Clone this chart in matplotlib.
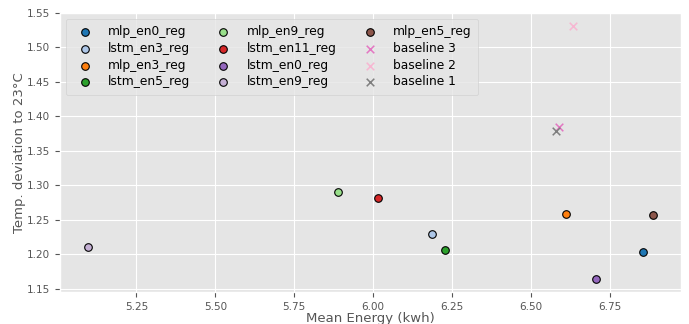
import matplotlib
matplotlib.use("Agg")
import matplotlib.pyplot as plt

plt.style.use("ggplot")

# model results: mean energy (kwh) vs temperature deviation
models = ["mlp_en0_reg", "lstm_en3_reg", "mlp_en3_reg", "lstm_en5_reg",
          "mlp_en9_reg", "lstm_en11_reg", "lstm_en0_reg", "lstm_en9_reg",
          "mlp_en5_reg"]
model_energy = [6.856, 6.187, 6.612, 6.229, 5.888, 6.016, 6.706, 5.097, 6.886]
model_dev = [1.204, 1.230, 1.259, 1.207, 1.290, 1.281, 1.164, 1.210, 1.257]
model_colors = ["#1f77b4", "#aec7e8", "#ff7f0e", "#2ca02c", "#98df8a",
                "#d62728", "#9467bd", "#c5b0d5", "#8c564b"]

baselines = ["baseline 3", "baseline 2", "baseline 1"]
baseline_energy = [6.591, 6.633, 6.580]
baseline_dev = [1.384, 1.531, 1.378]
baseline_colors = ["#e377c2", "#f7b6d2", "#7f7f7f"]

fig = plt.figure(figsize=(6.89, 3.24), dpi=100)
ax = fig.add_axes([0.087, 0.099, 0.901, 0.862])

for name, x, y, c in zip(models, model_energy, model_dev, model_colors):
    ax.scatter(x, y, s=30, color=c, edgecolors="black", linewidths=0.8, label=name, zorder=3)

for name, x, y, c in zip(baselines, baseline_energy, baseline_dev, baseline_colors):
    ax.scatter(x, y, s=30, color=c, marker="x", linewidths=1.1, label=name, zorder=3)

ax.set_xticks([5.25, 5.50, 5.75, 6.00, 6.25, 6.50, 6.75])
ax.set_yticks([1.15, 1.20, 1.25, 1.30, 1.35, 1.40, 1.45, 1.50, 1.55])
ax.tick_params(labelsize=7.5, colors="#555555")
ax.set_xlabel("Mean Energy (kwh)", fontsize=9.5, color="#555555", labelpad=0.5)
ax.set_ylabel("Temp. deviation to 23°C", fontsize=9.5, color="#555555", labelpad=1)

ax.legend(ncol=3, loc="upper left", fontsize=8.8, columnspacing=1.7,
          handletextpad=0.9, labelspacing=0.3, borderpad=0.55, markerscale=1.0)

plt.savefig("out.png", dpi=100)
